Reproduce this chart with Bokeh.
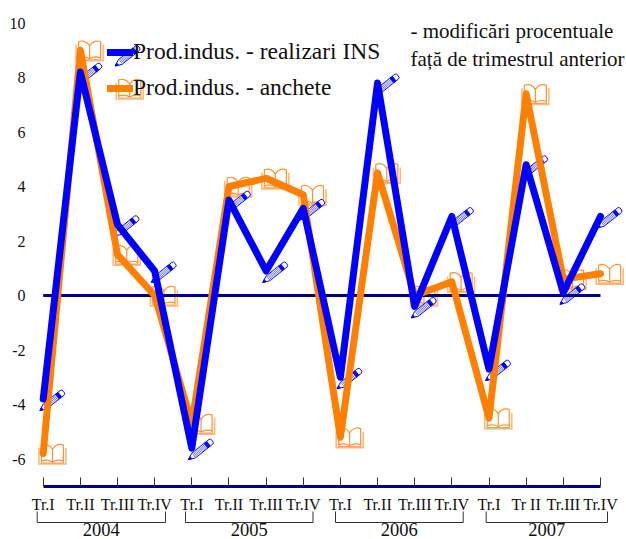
from urllib.parse import quote
from bokeh.plotting import figure
from bokeh.embed import file_html
from bokeh.resources import INLINE
from bokeh.core.properties import value
from bokeh.models import (Range1d, LinearAxis, FixedTicker, Legend, LegendItem)

quarter_labels = ["Tr.I", "Tr.II", "Tr.III", "Tr.IV", "Tr.I", "Tr.II", "Tr.III", "Tr.IV",
                  "Tr.I", "Tr.II", "Tr.III", "Tr.IV", "Tr.I", "Tr II", "Tr.III", "Tr.IV"]
years = ["2004", "2005", "2006", "2007"]
realizari = [-3.8, 8.2, 2.6, 0.9, -5.6, 3.5, 0.9, 3.2, -3.0, 7.8, -0.4, 2.9, -2.7, 4.8, 0.1, 2.9]
anchete = [-5.8, 9.0, 1.5, 0.0, -4.7, 4.0, 4.3, 3.7, -5.2, 4.5, 0.0, 0.5, -4.5, 7.4, 0.6, 0.8]
y_ticks = [-6, -4, -2, 0, 2, 4, 6, 8, 10]
y_labels = ["-6", "-4", "-2", "0", "2", "4", "6", "8", "10"]
name_real = "Prod.indus. - realizari INS"
name_anch = "Prod.indus. - anchete"
note = ["- modificări procentuale", "față de trimestrul anterior"]

BLUE = "#0000ff"
ORANGE = "#ff8000"
NAVY = "#000080"
FONT = "Liberation Serif"

W, H = 626, 539
X0, DX = 42.7, 37.15      # page pixels of quarter 0 and per quarter
Y0, DY = 295.0, 27.25     # page pixels of value 0 and per unit


def px(x):
    return (x - X0) / DX


def py(y):
    return (Y0 - y) / DY


def data_svg(body, w=80, h=60):
    s = (f'<svg xmlns="http://www.w3.org/2000/svg" width="{w}" height="{h}" '
         f'viewBox="0 0 {w} {h}">{body}</svg>')
    return "data:image/svg+xml," + quote(s)


hatch = "".join(f'<path d="M{7+i*1.5},-2.6V2.6"/>' for i in range(11))
PENCIL = data_svg(
    '<g transform="translate(36.7,41.5) rotate(-38.5)" fill="white" stroke="#0000ff" stroke-width="0.9">'
    '<path d="M0,0L6.5,-3H23V3H6.5Z"/>'
    '<path d="M0,0L3,-1.4V1.4Z" fill="#0000ff"/>'
    f'<g stroke-width="0.8" stroke="#5a5aff">{hatch}</g>'
    '<rect x="22.5" y="-3" width="3" height="6" fill="#0000ff"/>'
    '<path d="M25.5,-3H28.5A2,3 0 0 1 28.5,3H25.5Z"/>'
    '</g>')
BOOK = data_svg(
    '<g transform="translate(49.25,30.5)" fill="none" stroke="#ff9030" stroke-width="1.2">'
    '<path d="M-13.5,-6V10H13.5V-6" stroke="#ffb878" stroke-width="1.6"/>'
    '<path d="M0,-5C-3,-10 -8,-10.5 -11,-9V7C-8,6 -3,6 0,8C3,6 8,6 11,7V-9C8,-10.5 3,-10 0,-5Z" fill="white"/>'
    '<path d="M0,-5V8"/>'
    '<path d="M-11,7V9H11V7" stroke="#ffa050"/>'
    '</g>')

quarters = list(range(len(realizari)))

p = figure(width=W, height=H, output_backend="svg", toolbar_location=None,
           x_range=Range1d(px(0), px(W)), y_range=Range1d(py(H), py(0)),
           min_border=0, min_border_left=0, min_border_right=0, min_border_top=0, min_border_bottom=0,
           x_axis_type=None, y_axis_type=None, outline_line_color=None,
           background_fill_color="white", border_fill_color="white")
p.grid.visible = False

# icons under the lines
p.image_url(url=[BOOK] * 16, x=quarters, y=anchete, w=80, h=60, w_units="screen", h_units="screen", anchor="center")
p.image_url(url=[PENCIL] * 16, x=quarters, y=realizari, w=80, h=60, w_units="screen", h_units="screen", anchor="center")

# zero line
p.line([quarters[0], quarters[-1]], [0, 0], line_color=NAVY, line_width=3)

r_orange = p.line(quarters, anchete, line_color=ORANGE, line_width=7, line_join="round", line_cap="round")
r_blue = p.line(quarters, realizari, line_color=BLUE, line_width=7, line_join="round", line_cap="round")

# y axis (labels only)
yax = LinearAxis(ticker=FixedTicker(ticks=y_ticks), fixed_location=px(31),
                 major_label_overrides={t: s for t, s in zip(y_ticks, y_labels)},
                 axis_line_color=None, major_tick_line_color=None, minor_tick_line_color=None,
                 major_label_text_font=FONT, major_label_text_font_size="16px",
                 major_label_text_color="#111111", major_label_standoff=0)
p.add_layout(yax, "left")

# x axis on the bottom line
xax = LinearAxis(ticker=FixedTicker(ticks=quarters), fixed_location=-7.0,
                 major_label_overrides={q: t for q, t in zip(quarters, quarter_labels)},
                 axis_line_color=NAVY, axis_line_width=3, bounds=(quarters[0], quarters[-1]),
                 major_tick_line_color="#333333", major_tick_in=9, major_tick_out=0,
                 minor_tick_line_color=None,
                 major_label_text_font=FONT, major_label_text_font_size="16px",
                 major_label_text_color="#111111", major_label_standoff=10)
p.add_layout(xax, "below")

# year brackets
for i, yr in enumerate(years):
    a, b = px([36.7, 185.0, 335.0, 485.7][i]), px([165.0, 312.5, 462.7, 607.0][i])
    top, bot = py(511), py(522)
    p.line([a, a, b, b], [top, bot, bot, top], line_color="#333333", line_width=1)
    p.text([(a + b) / 2], [py(535)], text=[yr], text_font=value(FONT), text_font_size="18.5px",
           text_color="#111111", text_align="center", text_baseline="bottom")

# note
for t, yy in zip(note, [30, 58]):
    p.text([px(410)], [py(yy)], text=[t], text_font=value(FONT), text_font_size="21px",
           text_color="#111111", text_align="left", text_baseline="middle")

# legend icons
p.image_url(url=[PENCIL, BOOK], x=[px(118), px(120)], y=[py(54), py(88)], w=80, h=60,
            w_units="screen", h_units="screen", anchor="center")

legend = Legend(items=[LegendItem(label=name_real, renderers=[r_blue]),
                       LegendItem(label=name_anch, renderers=[r_orange])],
                location=(107, H - 101), orientation="vertical", background_fill_alpha=0, border_line_color=None,
                padding=0, margin=0, spacing=9, glyph_width=26, glyph_height=26, label_standoff=0,
                label_height=26, label_text_font=FONT, label_text_font_size="23.5px", label_text_color="#111111")
p.add_layout(legend, "center")

open("out.html", "w").write(file_html(p, INLINE))
